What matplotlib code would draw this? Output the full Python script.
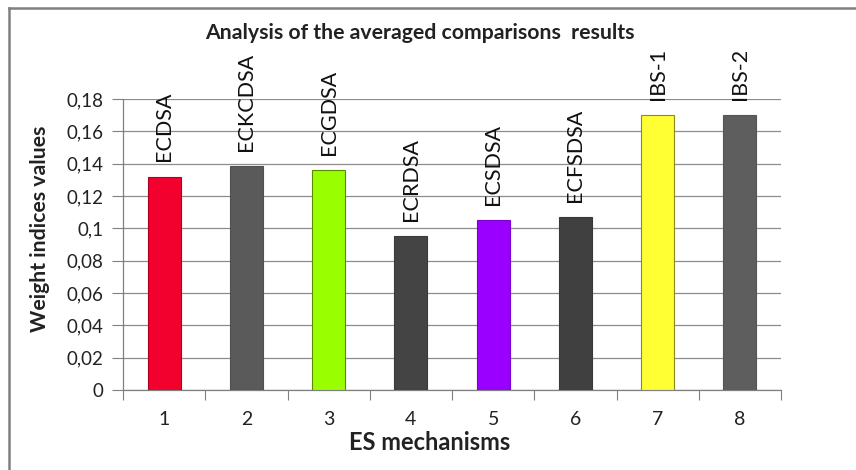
import matplotlib.pyplot as plt
from matplotlib.lines import Line2D
from matplotlib.ticker import FixedLocator, FuncFormatter

plt.rcParams['font.family'] = ['Lato', 'DejaVu Sans']

# data
positions = [1, 2, 3, 4, 5, 6, 7, 8]
names = ['ECDSA', 'ECKCDSA', 'ECGDSA', 'ECRDSA', 'ECSDSA', 'ECFSDSA', 'IBS-1', 'IBS-2']
values = [0.132, 0.1385, 0.136, 0.095, 0.105, 0.107, 0.170, 0.170]
colors = ['#F2002E', '#5A5A5A', '#99FF00', '#444444', '#9900FF', '#404040', '#FFFF33', '#5E5E5E']
edges = ['#B00020', '#505050', '#5A8A00', '#3A3A3A', '#7A00CC', '#383838', '#8A8A20', '#555555']
y_ticks = [0, 0.02, 0.04, 0.06, 0.08, 0.1, 0.12, 0.14, 0.16, 0.18]

fig = plt.figure(figsize=(8.56, 4.7), dpi=100)
ax = fig.add_axes([123 / 856, 1 - 390 / 470, (781 - 123) / 856, (390 - 99) / 470])

ax.bar(positions, values, width=0.4, color=colors, edgecolor=edges, linewidth=0.8, zorder=3)

for x, v, name in zip(positions, values, names):
    ax.annotate(name, (x, v), xytext=(0, 11), textcoords='offset points',
                rotation=90, ha='center', va='bottom', fontsize=15.5, color='#111111')

ax.set_xlim(0.5, 8.5)
ax.set_ylim(0, 0.18)
ax.yaxis.set_major_locator(FixedLocator(y_ticks))
ax.yaxis.set_major_formatter(FuncFormatter(lambda v, p: ('%g' % round(v, 2)).replace('.', ',')))
ax.set_xticks(positions)
ax.xaxis.set_minor_locator(FixedLocator([p + 0.5 for p in [0] + positions]))
ax.tick_params(axis='x', which='major', length=0, pad=15, labelsize=14, colors='#222222')
ax.tick_params(axis='x', which='minor', length=7, width=0.8, color='#808080', direction='out')
ax.tick_params(axis='y', length=8, width=0.8, color='#808080', labelsize=13.5, pad=6, labelcolor='#222222')

ax.grid(axis='y', color='#8C8C8C', linewidth=0.9, zorder=0)
for side in ['top', 'right']:
    ax.spines[side].set_visible(False)
for side in ['left', 'bottom']:
    ax.spines[side].set_color('#808080')
    ax.spines[side].set_linewidth(0.9)

fig.text(420 / 856, 1 - 33 / 470, 'Analysis of the averaged comparisons  results',
         ha='center', va='center', fontsize=15.3, fontweight='bold', color='#222222')
fig.text(430 / 856, 1 - 443 / 470, 'ES mechanisms', ha='center', va='center',
         fontsize=17, fontweight='bold', color='#222222')
fig.text(40 / 856, 1 - 229 / 470, 'Weight indices values', ha='center', va='center',
         rotation=90, fontsize=15.3, fontweight='bold', color='#222222')

# outer frame (top and left edges visible in the reference)
fig.add_artist(Line2D([9 / 856, 9 / 856], [0, 1 - 8 / 470], transform=fig.transFigure,
                      color='#808080', linewidth=1.8))
fig.add_artist(Line2D([9 / 856, 1], [1 - 8 / 470, 1 - 8 / 470], transform=fig.transFigure,
                      color='#808080', linewidth=1.8))

fig.savefig('out.png', dpi=100)
